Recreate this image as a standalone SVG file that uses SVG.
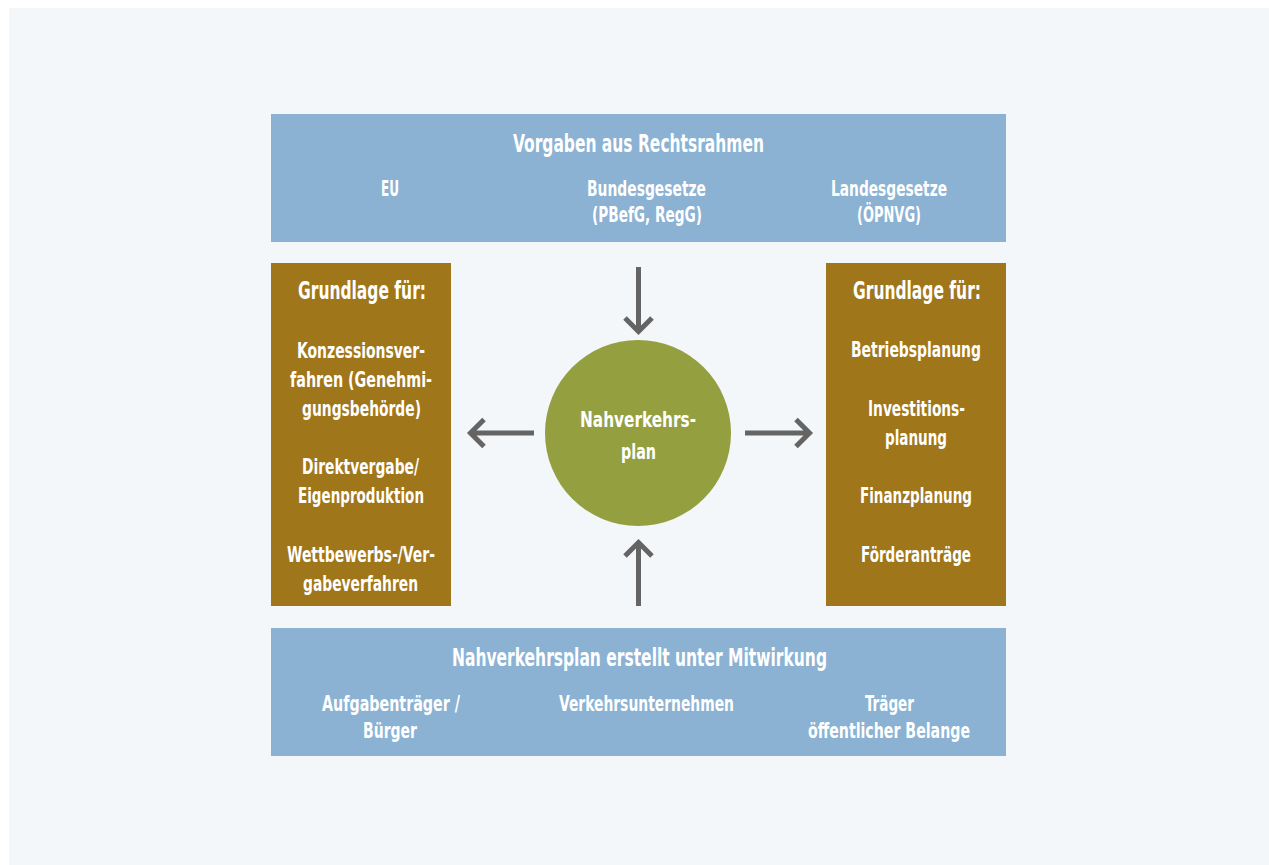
<svg xmlns="http://www.w3.org/2000/svg" width="1269" height="865" viewBox="0 0 1269 865">
<defs>
<style>
.t{font-family:"DejaVu Sans Condensed","Liberation Sans Narrow","Liberation Sans",sans-serif;font-weight:bold;fill:#ffffff;text-anchor:middle}
.h{font-size:24px}
.b{font-size:21px}
.blue{fill:#8bb2d3}
.brown{fill:#a0761a}
.arr{fill:none;stroke:#646464;stroke-width:5}
</style>
</defs>
<rect x="0" y="0" width="1269" height="865" fill="#ffffff"/>
<rect x="9" y="8" width="1260" height="857" fill="#f3f7fa"/>
<g id="rechtsrahmen">
<rect class="blue" x="271" y="114" width="735" height="128"/>
<text class="t h" x="638.5" y="152" textLength="251" lengthAdjust="spacingAndGlyphs">Vorgaben aus Rechtsrahmen</text>
<text class="t b" x="390" y="196" textLength="18" lengthAdjust="spacingAndGlyphs">EU</text>
<text class="t b" x="646.5" y="196" textLength="119" lengthAdjust="spacingAndGlyphs">Bundesgesetze</text>
<text class="t b" x="647" y="222" textLength="110" lengthAdjust="spacingAndGlyphs">(PBefG, RegG)</text>
<text class="t b" x="889" y="196" textLength="116" lengthAdjust="spacingAndGlyphs">Landesgesetze</text>
<text class="t b" x="889" y="222" textLength="64" lengthAdjust="spacingAndGlyphs">(ÖPNVG)</text>
</g>
<g id="grundlage-links">
<rect class="brown" x="271" y="263" width="180" height="343"/>
<text class="t h" x="362" y="299" textLength="128" lengthAdjust="spacingAndGlyphs">Grundlage für:</text>
<text class="t b" x="361" y="358" textLength="128" lengthAdjust="spacingAndGlyphs">Konzessionsver-</text>
<text class="t b" x="361" y="387" textLength="142" lengthAdjust="spacingAndGlyphs">fahren (Genehmi-</text>
<text class="t b" x="361.5" y="416" textLength="119" lengthAdjust="spacingAndGlyphs">gungsbehörde)</text>
<text class="t b" x="360.5" y="474" textLength="117" lengthAdjust="spacingAndGlyphs">Direktvergabe/</text>
<text class="t b" x="361" y="503" textLength="126" lengthAdjust="spacingAndGlyphs">Eigenproduktion</text>
<text class="t b" x="361" y="562" textLength="148" lengthAdjust="spacingAndGlyphs">Wettbewerbs-/Ver-</text>
<text class="t b" x="360.5" y="591" textLength="115" lengthAdjust="spacingAndGlyphs">gabeverfahren</text>
</g>
<g id="grundlage-rechts">
<rect class="brown" x="826" y="263" width="180" height="343"/>
<text class="t h" x="917" y="299" textLength="128" lengthAdjust="spacingAndGlyphs">Grundlage für:</text>
<text class="t b" x="916" y="357" textLength="130" lengthAdjust="spacingAndGlyphs">Betriebsplanung</text>
<text class="t b" x="916.5" y="416" textLength="97" lengthAdjust="spacingAndGlyphs">Investitions-</text>
<text class="t b" x="916" y="445" textLength="62" lengthAdjust="spacingAndGlyphs">planung</text>
<text class="t b" x="916" y="503" textLength="112" lengthAdjust="spacingAndGlyphs">Finanzplanung</text>
<text class="t b" x="916" y="562" textLength="110" lengthAdjust="spacingAndGlyphs">Förderanträge</text>
</g>
<g id="nahverkehrsplan">
<circle cx="638" cy="433" r="93" fill="#94a040"/>
<text class="t b" x="638" y="427" textLength="116" lengthAdjust="spacingAndGlyphs">Nahverkehrs-</text>
<text class="t b" x="638.5" y="459" textLength="35" lengthAdjust="spacingAndGlyphs">plan</text>
</g>
<g id="mitwirkung">
<rect class="blue" x="271" y="628" width="735" height="128"/>
<text class="t h" x="639.5" y="666" textLength="375" lengthAdjust="spacingAndGlyphs">Nahverkehrsplan erstellt unter Mitwirkung</text>
<text class="t b" x="391" y="711" textLength="138" lengthAdjust="spacingAndGlyphs">Aufgabenträger /</text>
<text class="t b" x="390" y="738" textLength="54" lengthAdjust="spacingAndGlyphs">Bürger</text>
<text class="t b" x="646.5" y="711" textLength="175" lengthAdjust="spacingAndGlyphs">Verkehrsunternehmen</text>
<text class="t b" x="889.5" y="711" textLength="49" lengthAdjust="spacingAndGlyphs">Träger</text>
<text class="t b" x="889" y="738" textLength="162" lengthAdjust="spacingAndGlyphs">öffentlicher Belange</text>
</g>
<g id="connectors">
<path class="arr" d="M638.5 267V331M625 318L638.5 331.5L652 318"/>
<path class="arr" d="M638.5 606V543M625 556L638.5 542.5L652 556"/>
<path class="arr" d="M534 433H471M484 419.5L470.5 433L484 446.5"/>
<path class="arr" d="M745 433H809M796 419.5L809.5 433L796 446.5"/>
</g>
</svg>
